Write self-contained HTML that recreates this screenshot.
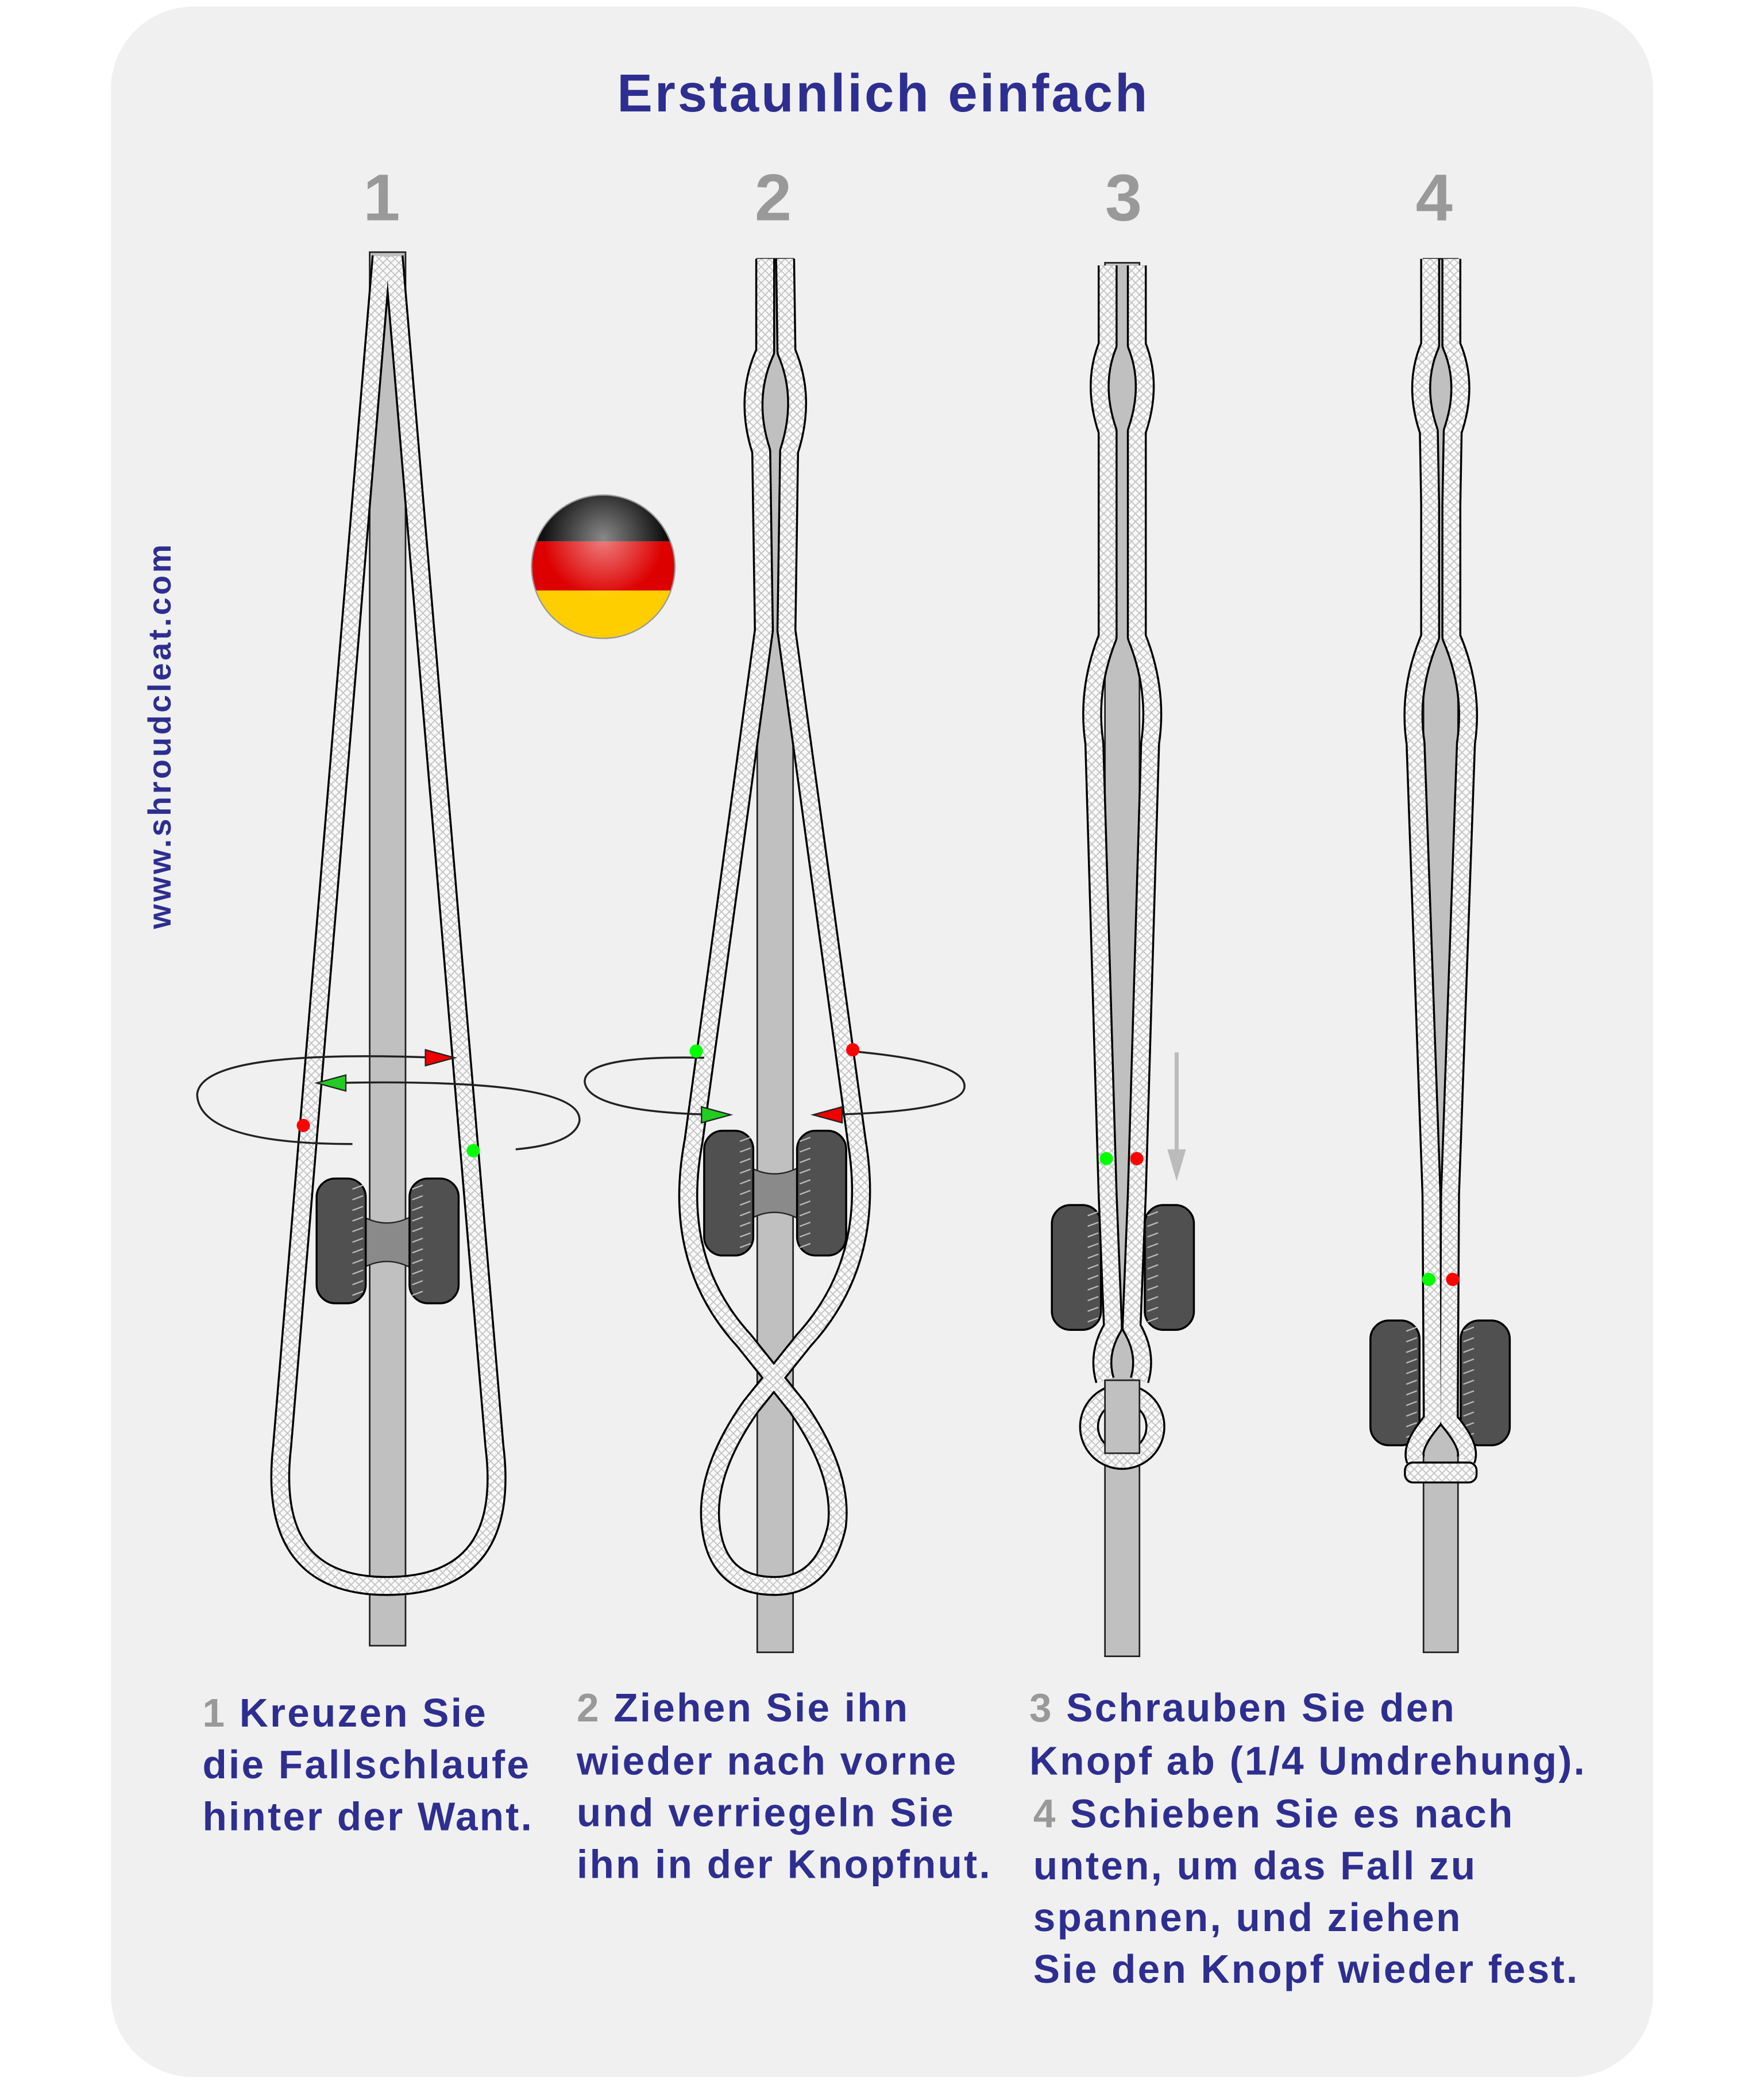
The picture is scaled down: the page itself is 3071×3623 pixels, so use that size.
<!DOCTYPE html>
<html><head><meta charset="utf-8"><style>
html,body{margin:0;padding:0;background:#fff}
svg{display:block}
text{font-family:"Liberation Sans",sans-serif;font-weight:bold}
</style></head><body>
<svg width="3071" height="3623" viewBox="0 0 1328 1568" xmlns="http://www.w3.org/2000/svg">
<defs>
<pattern id="h" width="6" height="6" patternUnits="userSpaceOnUse">
<rect width="6" height="6" fill="#fafafa"/>
<path d="M0,0L6,6M6,0L0,6" stroke="#c4c4c4" stroke-width="0.8"/>
</pattern>
<radialGradient id="gl" cx="0.5" cy="0.3" r="0.7">
<stop offset="0" stop-color="#fff" stop-opacity="0.5"/><stop offset="0.6" stop-color="#fff" stop-opacity="0"/>
</radialGradient>
<clipPath id="fc"><circle cx="454" cy="427" r="54"/></clipPath>
<g id="cleatL"><rect x="0" y="0" width="37" height="94" rx="14" fill="#505050" stroke="#000" stroke-width="1.5"/>
<path d="M27,8l8,-3M27,16l8,-3M27,24l8,-3M27,32l8,-3M27,40l8,-3M27,48l8,-3M27,56l8,-3M27,64l8,-3M27,72l8,-3M27,80l8,-3M27,88l8,-3" stroke="#bbb" stroke-width="1"/></g>
<g id="cleatR"><rect x="0" y="0" width="37" height="94" rx="14" fill="#505050" stroke="#000" stroke-width="1.5"/>
<path d="M2,8l8,-3M2,16l8,-3M2,24l8,-3M2,32l8,-3M2,40l8,-3M2,48l8,-3M2,56l8,-3M2,64l8,-3M2,72l8,-3M2,80l8,-3M2,88l8,-3" stroke="#bbb" stroke-width="1"/></g>
</defs>
<rect x="83" y="5" width="1162" height="1560" rx="62" fill="#f0f0f0"/>
<text x="665" y="84" font-size="40" fill="#2e2e90" text-anchor="middle" letter-spacing="1.7">Erstaunlich einfach</text>
<g font-size="50" fill="#999" text-anchor="middle">
<text x="287" y="166">1</text><text x="582" y="166">2</text><text x="846" y="166">3</text><text x="1080" y="166">4</text></g>
<text transform="translate(128,700) rotate(-90)" font-size="24" fill="#2e2e90" letter-spacing="2">www.shroudcleat.com</text>

<!-- rods -->
<g fill="#c0c0c0" stroke="#222" stroke-width="1.2">
<rect x="278" y="190" width="27" height="1050"/>
<rect x="570" y="195" width="27" height="1050"/>
<rect x="832" y="198" width="26" height="1050"/>
<rect x="1072" y="195" width="26" height="1050"/>
</g>

<!-- flag -->
<g clip-path="url(#fc)"><rect x="398" y="370" width="112" height="38" fill="#111"/><rect x="398" y="408" width="112" height="37" fill="#dd0000"/><rect x="398" y="445" width="112" height="40" fill="#ffce00"/></g>
<circle cx="454" cy="427" r="54" fill="url(#gl)" stroke="#999" stroke-width="1"/>

<!-- cleats -->
<path d="M270,915 Q291,928 312,915 L312,957 Q291,944 270,957 Z" fill="#8a8a8a" stroke="#222"/>
<use href="#cleatL" x="238" y="888"/><use href="#cleatR" x="308" y="888"/>
<path d="M562,878 Q583,891 604,878 L604,920 Q583,907 562,920 Z" fill="#8a8a8a" stroke="#222"/>
<use href="#cleatL" x="530" y="852"/><use href="#cleatR" x="600" y="852"/>
<use href="#cleatL" x="792" y="908"/><use href="#cleatR" x="862" y="908"/>
<use href="#cleatL" x="1032" y="995"/><use href="#cleatR" x="1100" y="995"/>

<!-- ropes -->
<g fill="none" stroke-linejoin="round">
<g stroke="#000" stroke-width="15">
<path d="M287,193 L212,1090 Q200,1195 291,1195 Q385,1195 372,1090 L296,193"/>
<path d="M576,195 L576,265 Q560,300 573,340 L575,475 L522,860 Q505,950 560,1010 L600,1060 Q635,1110 630,1150 Q620,1195 583,1195 Q540,1195 535,1150 Q530,1110 565,1060 L605,1010 Q660,950 645,860 L592,475 L594,340 Q607,300 592,265 L591,195"/>
<path d="M834,200 L834,260 Q822,290 834,325 L834,380 L834,480 Q818,520 824,560 L834,900 L838,1000 Q826,1020 832,1040"/>
<path d="M856,200 L856,260 Q868,290 856,325 L856,380 L856,480 Q872,520 866,560 L856,900 L852,1000 Q864,1020 858,1040"/>
<circle cx="845" cy="1075" r="25"/>
<path d="M1077,195 L1077,260 Q1064,290 1076,325 L1077,380 L1077,480 Q1060,520 1066,560 L1078,900 L1079,1070 Q1062,1090 1066,1100"/>
<path d="M1093,195 L1093,260 Q1106,290 1094,325 L1093,380 L1093,480 Q1110,520 1104,560 L1092,900 L1091,1070 Q1108,1090 1104,1100"/>
</g>
<g stroke="url(#h)" stroke-width="12">
<path d="M287,193 L212,1090 Q200,1195 291,1195 Q385,1195 372,1090 L296,193"/>
<path d="M576,195 L576,265 Q560,300 573,340 L575,475 L522,860 Q505,950 560,1010 L600,1060 Q635,1110 630,1150 Q620,1195 583,1195 Q540,1195 535,1150 Q530,1110 565,1060 L605,1010 Q660,950 645,860 L592,475 L594,340 Q607,300 592,265 L591,195"/>
<path d="M834,200 L834,260 Q822,290 834,325 L834,380 L834,480 Q818,520 824,560 L834,900 L838,1000 Q826,1020 832,1040"/>
<path d="M856,200 L856,260 Q868,290 856,325 L856,380 L856,480 Q872,520 866,560 L856,900 L852,1000 Q864,1020 858,1040"/>
<circle cx="845" cy="1075" r="25"/>
<path d="M1077,195 L1077,260 Q1064,290 1076,325 L1077,380 L1077,480 Q1060,520 1066,560 L1078,900 L1079,1070 Q1062,1090 1066,1100"/>
<path d="M1093,195 L1093,260 Q1106,290 1094,325 L1093,380 L1093,480 Q1110,520 1104,560 L1092,900 L1091,1070 Q1108,1090 1104,1100"/>
</g>
</g>
<rect x="832" y="1040" width="26" height="55" fill="#c0c0c0" stroke="#222" stroke-width="1.2"/>
<rect x="1058" y="1102" width="54" height="15" rx="6" fill="url(#h)" stroke="#000" stroke-width="1.5"/>

<!-- rotation arrows -->
<g fill="none" stroke="#222" stroke-width="1.5">
<path d="M330,797 Q150,790 148,825 Q150,862 265,862"/>
<path d="M250,816 Q440,812 436,845 Q432,862 388,866"/>
<path d="M530,797 Q440,795 440,815 Q442,838 540,840"/>
<path d="M640,792 Q730,800 726,820 Q722,838 620,840"/>
</g>
<polygon points="320,791 342,797 320,803" fill="#e00" stroke="#222"/>
<polygon points="260,810 238,816 260,822" fill="#2c2" stroke="#222"/>
<polygon points="528,834 550,840 528,846" fill="#2c2" stroke="#222"/>
<polygon points="634,834 612,840 634,846" fill="#e00" stroke="#222"/>
<g><circle cx="228" cy="848" r="5" fill="#f00"/><circle cx="356" cy="867" r="5" fill="#0f0"/>
<circle cx="524" cy="792" r="5" fill="#0f0"/><circle cx="642" cy="791" r="5" fill="#f00"/>
<circle cx="833" cy="873" r="5" fill="#0f0"/><circle cx="856" cy="873" r="5" fill="#f00"/>
<circle cx="1076" cy="964" r="5" fill="#0f0"/><circle cx="1094" cy="964" r="5" fill="#f00"/></g>
<path d="M886,793 L886,870" stroke="#bbb" stroke-width="3"/>
<polygon points="879,866 893,866 886,890" fill="#bbb"/>

<!-- captions -->
<g font-size="30" fill="#2e2e90" letter-spacing="1.4">
<text x="152" y="1301"><tspan fill="#999">1</tspan>  Kreuzen Sie</text>
<text x="152" y="1340">die Fallschlaufe</text>
<text x="152" y="1379">hinter der Want.</text>
<text x="434" y="1297"><tspan fill="#999">2</tspan>  Ziehen Sie ihn</text>
<text x="434" y="1337">wieder nach vorne</text>
<text x="434" y="1376">und verriegeln Sie</text>
<text x="434" y="1415">ihn in der Knopfnut.</text>
<text x="775" y="1297"><tspan fill="#999">3</tspan>  Schrauben Sie den</text>
<text x="775" y="1337">Knopf ab (1/4 Umdrehung).</text>
<text x="778" y="1377"><tspan fill="#999">4</tspan>  Schieben Sie es nach</text>
<text x="778" y="1416">unten, um das Fall zu</text>
<text x="778" y="1455">spannen, und ziehen</text>
<text x="778" y="1494">Sie den Knopf  wieder fest.</text>
</g>
</svg>
</body></html>
